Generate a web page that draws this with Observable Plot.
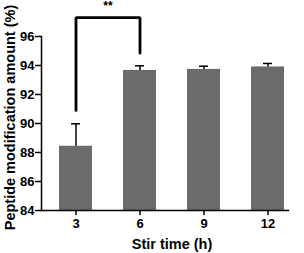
<!DOCTYPE html>
<html><head><meta charset="utf-8">
<script src="https://cdn.jsdelivr.net/npm/d3@7"></script>
<script src="https://cdn.jsdelivr.net/npm/@observablehq/plot@0.6"></script>
<style>body{margin:0;background:#fff}svg{display:block}</style>
</head><body><div id="chart"></div>
<script>
const times = ["3", "6", "9", "12"];
const means = [88.43, 93.66, 93.73, 93.9];
const errors = [1.55, 0.32, 0.22, 0.24];
const yTicks = [84, 86, 88, 90, 92, 94, 96];
const bracketX = ["3", "3", "6", "6"];
const bracketY = [90.9, 97.3, 97.3, 94.85];
const sigLabel = "**";

const data = times.map((t, i) => ({time: t, mean: means[i], hi: means[i] + errors[i]}));
const bracket = bracketX.map((x, i) => ({x, y: bracketY[i]}));
const font = "Liberation Sans, Arial, sans-serif";

const chart = Plot.plot({
  width: 304, height: 253,
  marginLeft: 41, marginRight: 16, marginTop: 36, marginBottom: 43,
  style: {fontFamily: font, fontSize: "13px", fontWeight: "bold", color: "#000", background: "#fff"},
  x: {type: "band", domain: times, paddingInner: 0.49, paddingOuter: 0.155, align: 0.8},
  y: {domain: [84, 96]},
  marks: [
    Plot.barY(data, {x: "time", y1: 84, y2: "mean", fill: "#6b6b6b"}),
    Plot.ruleX(data, {x: "time", y1: "mean", y2: "hi", stroke: "#000", strokeWidth: 1.5}),
    Plot.tickY(data, {x: "time", y: "hi", stroke: "#000", strokeWidth: 1.5, insetLeft: 12, insetRight: 12}),
    Plot.line(bracket, {x: "x", y: "y", stroke: "#000", strokeWidth: 2.8, strokeLinejoin: "miter"}),
    Plot.text([sigLabel], {x: () => "3", y: () => 97.3, dx: 32, dy: -11, text: d => d, fontSize: 12, fontWeight: "bold"}),
    Plot.axisY({ticks: yTicks, tickSize: 6, tickPadding: 1, strokeWidth: 1.5, label: null, fontSize: 13}),
    Plot.axisX({tickSize: 5, tickPadding: 3, strokeWidth: 1.5, label: null, fontSize: 13}),
    Plot.frame({anchor: "left", strokeWidth: 1.5}),
    Plot.frame({anchor: "bottom", strokeWidth: 1.5}),
    Plot.text(["Peptide modification amount (%)"], {frameAnchor: "left", textAnchor: "middle", rotate: -90, dx: -31, dy: -6, fontSize: 14.5, fontWeight: "bold"}),
    Plot.text(["Stir time (h)"], {frameAnchor: "bottom", dy: 38, dx: 7, fontSize: 14.5, fontWeight: "bold"})
  ]
});
document.getElementById("chart").appendChild(chart);
</script></body></html>
